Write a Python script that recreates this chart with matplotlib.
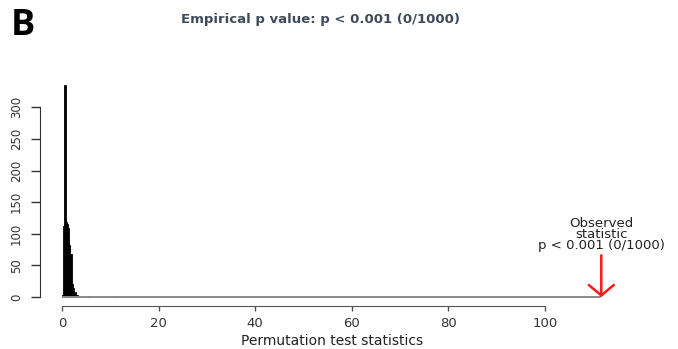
import matplotlib
matplotlib.use("Agg")
import matplotlib.pyplot as plt

# Permutation distribution: left edges of 0.25-wide bins and their counts
bin_width = 0.25
bin_left = [0.0, 0.25, 0.5, 0.75, 1.0, 1.25, 1.5, 1.75, 2.0, 2.25, 2.5, 2.75,
            3.0, 3.25, 5.25, 11.0]
bin_count = [4, 112, 335, 118, 116, 110, 82, 68, 20, 14, 6, 8, 3, 2, 1, 1]

observed = 111.7
x_ticks = [0, 20, 40, 60, 80, 100]
y_ticks = [0, 50, 100, 150, 200, 250, 300]

title = "Empirical p value: p < 0.001 (0/1000)"
obs_label = "Observed\nstatistic\np < 0.001 (0/1000)"
x_label = "Permutation test statistics"

fig = plt.figure(figsize=(6.78, 3.49), dpi=100)
ax = fig.add_axes([0.0596, 0.1246, 0.8593, 0.6553])

ax.bar(bin_left, bin_count, width=bin_width, align="edge",
       color="black", edgecolor="black", linewidth=0.6)

# baseline running out to the observed statistic
ax.plot([0, observed], [0, 0], color="#8c8c8c", lw=1.4, solid_capstyle="butt")

ax.annotate("", xy=(observed, 0), xytext=(observed, 66),
            arrowprops=dict(arrowstyle="->,head_length=0.75,head_width=0.9",
                            color="#ff1a1a", lw=1.8, shrinkA=0, shrinkB=0))
ax.text(observed, 71, obs_label, ha="center", va="bottom", fontsize=9.5,
        linespacing=0.8, color="#222222", clip_on=False)

ax.set_xlim(-4.47, 116.2)
ax.set_ylim(-13.4, 348.4)

for s in ("top", "right"):
    ax.spines[s].set_visible(False)
ax.spines["left"].set_bounds(0, 300)
ax.spines["bottom"].set_bounds(0, 100)
ax.spines["left"].set_color("#333333")
ax.spines["bottom"].set_color("#555555")

ax.set_xticks(x_ticks)
ax.set_yticks(y_ticks)
ax.tick_params(axis="x", length=3.5, width=1, color="#555555", pad=5,
               labelsize=9.5, labelcolor="#333333")
ax.tick_params(axis="y", length=6.5, width=1, color="#333333", pad=6,
               labelsize=8.5, labelcolor="#333333")
for lab in ax.get_yticklabels():
    lab.set_rotation(90)
    lab.set_va("center")

ax.set_xlabel(x_label, fontsize=10, color="#222222", labelpad=3)

fig.text(0.472, 0.943, title, ha="center", va="center", fontsize=9.5,
         fontweight="bold", color="#3f4b5b")
fig.text(0.016, 0.925, "B", ha="left", va="center", fontsize=26,
         fontweight="bold", family=["Open Sans", "DejaVu Sans"], color="black")

fig.savefig("out.png", dpi=100)
